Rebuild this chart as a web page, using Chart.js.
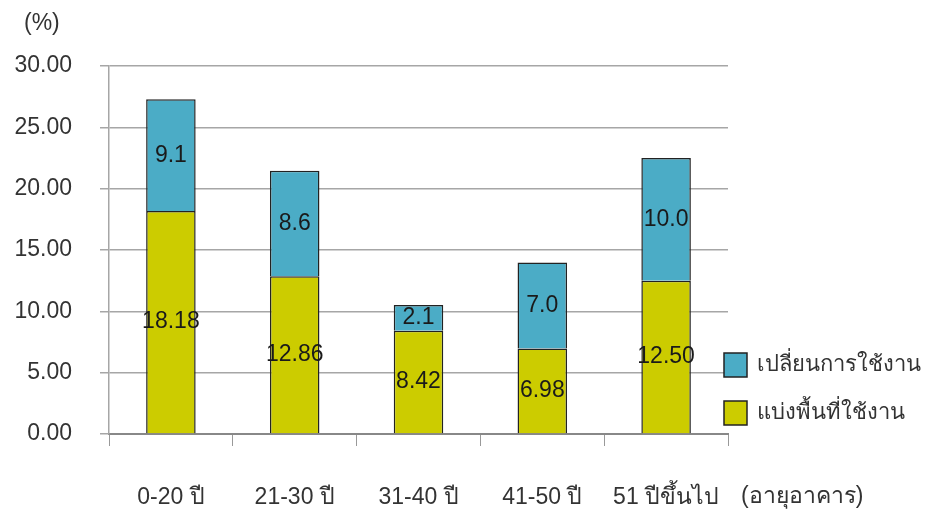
<!DOCTYPE html>
<html>
<head>
<meta charset="utf-8">
<script src="https://cdn.jsdelivr.net/npm/chart.js@4/dist/chart.umd.min.js"></script>
<style>
  html, body { margin: 0; padding: 0; background: #fff; }
  #wrap { position: relative; width: 930px; height: 514px; }
</style>
</head>
<body>
<div id="wrap"><canvas id="chart" width="930" height="514"></canvas></div>
<script>
// building age groups
var categories = ["0-20 ปี", "21-30 ปี", "31-40 ปี", "41-50 ปี", "51 ปีขึ้นไป"];
// split of usable space (bottom, yellow)
var splitValues = [18.18, 12.86, 8.42, 6.98, 12.50];
// change of use (top, blue)
var changeValues = [9.1, 8.6, 2.1, 7.0, 10.0];
var yTicks = [0, 5, 10, 15, 20, 25, 30];

var FONT = "'Liberation Sans', 'DejaVu Sans', sans-serif";
var TEXT = "#333333";

// value labels in the middle of each segment
var segmentLabels = {
  id: 'segmentLabels',
  afterDatasetsDraw: function (chart) {
    var ctx = chart.ctx;
    ctx.save();
    ctx.font = "23px " + FONT;
    ctx.fillStyle = "#1a1a1a";
    ctx.textAlign = "center";
    ctx.textBaseline = "middle";
    chart.data.datasets.forEach(function (ds, i) {
      var meta = chart.getDatasetMeta(i);
      meta.data.forEach(function (bar, j) {
        var txt = ds.data[j].toFixed(ds.decimals);
        ctx.fillText(txt, bar.x, (bar.y + bar.base) / 2);
      });
    });
    ctx.restore();
  }
};

// legend on the right, plus axis captions
var sideLegend = {
  id: 'sideLegend',
  afterDraw: function (chart) {
    var ctx = chart.ctx;
    var area = chart.chartArea;
    ctx.save();
    ctx.font = "22px " + FONT;
    ctx.textBaseline = "middle";
    var items = chart.data.datasets.slice().reverse();
    items.forEach(function (ds, k) {
      var y = 365 + k * 48;
      ctx.fillStyle = ds.backgroundColor;
      ctx.fillRect(area.right - 4, y - 12, 23, 24);
      ctx.strokeStyle = "#222";
      ctx.lineWidth = 1.5;
      ctx.strokeRect(area.right - 4, y - 12, 23, 24);
      ctx.fillStyle = TEXT;
      ctx.textAlign = "left";
      ctx.fillText(ds.label, area.right + 29, y);
    });
    ctx.font = "23px " + FONT;
    ctx.textAlign = "left";
    ctx.fillText("(%)", 24, 24);
    ctx.fillText("(อายุอาคาร)", 741, 497);
    ctx.restore();
  }
};

new Chart(document.getElementById("chart"), {
  type: 'bar',
  data: {
    labels: categories,
    datasets: [
      {
        label: "แบ่งพื้นที่ใช้งาน",
        data: splitValues,
        decimals: 2,
        backgroundColor: "#CCCC00",
        borderColor: "#222222",
        borderWidth: 1.5,
        barPercentage: 0.4,
        categoryPercentage: 1.0
      },
      {
        label: "เปลี่ยนการใช้งาน",
        data: changeValues,
        decimals: 1,
        backgroundColor: "#4BACC6",
        borderColor: "#222222",
        borderWidth: 1.5,
        barPercentage: 0.4,
        categoryPercentage: 1.0
      }
    ]
  },
  options: {
    responsive: false,
    animation: false,
    layout: { padding: { top: 66, right: 202, left: 0, bottom: 0 } },
    plugins: {
      legend: { display: false },
      tooltip: { enabled: false }
    },
    scales: {
      x: {
        stacked: true,
        offset: true,
        grid: {
          offset: true,
          drawOnChartArea: false,
          drawTicks: true,
          tickLength: 12,
          color: "#999999"
        },
        border: { color: "#888888", width: 2 },
        ticks: { font: { size: 23, family: FONT }, color: TEXT, padding: 38 },
        afterFit: function (scale) { scale.height = 80; }
      },
      y: {
        stacked: true,
        min: 0,
        max: 30,
        afterBuildTicks: function (scale) {
          scale.ticks = yTicks.map(function (v) { return { value: v }; });
        },
        grid: { color: "#a6a6a6", lineWidth: 1.5, tickLength: 9 },
        border: { color: "#a6a6a6", width: 1.5 },
        ticks: {
          font: { size: 23, family: FONT },
          color: TEXT,
          padding: 28,
          callback: function (v) { return v.toFixed(2); }
        },
        afterFit: function (scale) { scale.width = 109; }
      }
    }
  },
  plugins: [segmentLabels, sideLegend]
});
</script>
</body>
</html>
